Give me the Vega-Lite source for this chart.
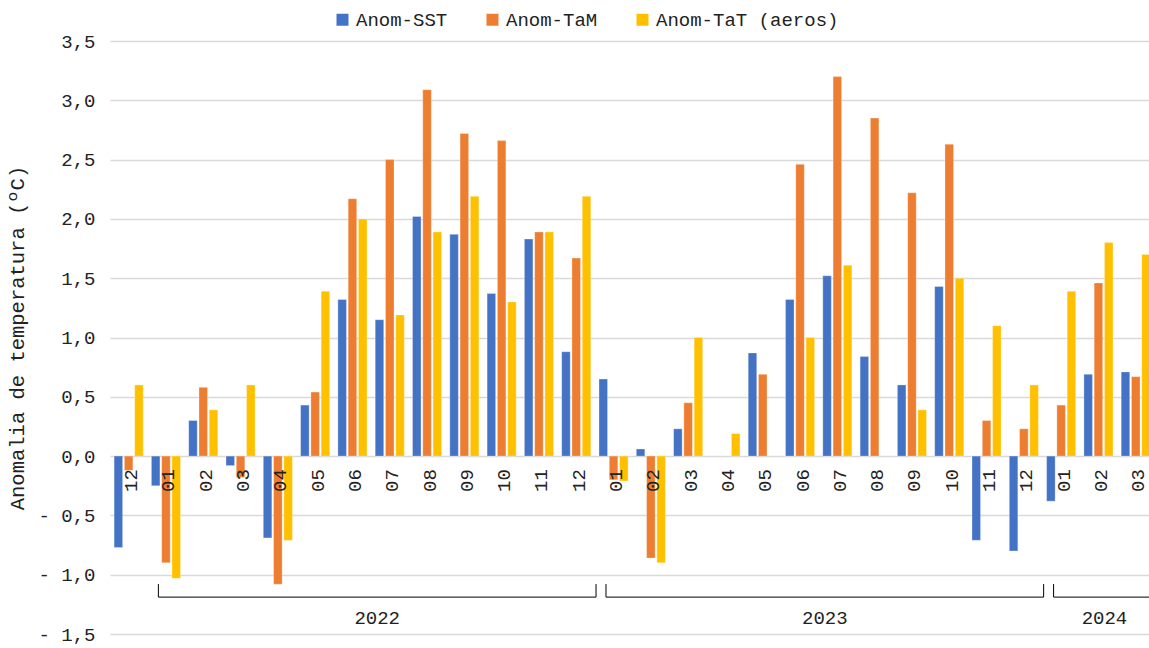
{
  "$schema": "https://vega.github.io/schema/vega-lite/v6.json",
  "width": 1039,
  "height": 593,
  "autosize": {"type": "none"},
  "padding": {"left": 110, "top": 41, "right": 0, "bottom": 14},
  "background": "#ffffff",
  "config": {
    "view": {"stroke": null},
    "font": "Liberation Mono",
    "text": {"font": "Liberation Mono", "color": "#222222"}
  },
  "datasets": {
    "bars": [
      {"m": "2021-12", "s": "Anom-SST", "v": -0.77}, {"m": "2021-12", "s": "Anom-TaM", "v": -0.12}, {"m": "2021-12", "s": "Anom-TaT (aeros)", "v": 0.60},
      {"m": "2022-01", "s": "Anom-SST", "v": -0.25}, {"m": "2022-01", "s": "Anom-TaM", "v": -0.90}, {"m": "2022-01", "s": "Anom-TaT (aeros)", "v": -1.03},
      {"m": "2022-02", "s": "Anom-SST", "v": 0.30}, {"m": "2022-02", "s": "Anom-TaM", "v": 0.58}, {"m": "2022-02", "s": "Anom-TaT (aeros)", "v": 0.39},
      {"m": "2022-03", "s": "Anom-SST", "v": -0.08}, {"m": "2022-03", "s": "Anom-TaM", "v": -0.18}, {"m": "2022-03", "s": "Anom-TaT (aeros)", "v": 0.60},
      {"m": "2022-04", "s": "Anom-SST", "v": -0.69}, {"m": "2022-04", "s": "Anom-TaM", "v": -1.08}, {"m": "2022-04", "s": "Anom-TaT (aeros)", "v": -0.71},
      {"m": "2022-05", "s": "Anom-SST", "v": 0.43}, {"m": "2022-05", "s": "Anom-TaM", "v": 0.54}, {"m": "2022-05", "s": "Anom-TaT (aeros)", "v": 1.39},
      {"m": "2022-06", "s": "Anom-SST", "v": 1.32}, {"m": "2022-06", "s": "Anom-TaM", "v": 2.17}, {"m": "2022-06", "s": "Anom-TaT (aeros)", "v": 2.00},
      {"m": "2022-07", "s": "Anom-SST", "v": 1.15}, {"m": "2022-07", "s": "Anom-TaM", "v": 2.50}, {"m": "2022-07", "s": "Anom-TaT (aeros)", "v": 1.19},
      {"m": "2022-08", "s": "Anom-SST", "v": 2.02}, {"m": "2022-08", "s": "Anom-TaM", "v": 3.09}, {"m": "2022-08", "s": "Anom-TaT (aeros)", "v": 1.89},
      {"m": "2022-09", "s": "Anom-SST", "v": 1.87}, {"m": "2022-09", "s": "Anom-TaM", "v": 2.72}, {"m": "2022-09", "s": "Anom-TaT (aeros)", "v": 2.19},
      {"m": "2022-10", "s": "Anom-SST", "v": 1.37}, {"m": "2022-10", "s": "Anom-TaM", "v": 2.66}, {"m": "2022-10", "s": "Anom-TaT (aeros)", "v": 1.30},
      {"m": "2022-11", "s": "Anom-SST", "v": 1.83}, {"m": "2022-11", "s": "Anom-TaM", "v": 1.89}, {"m": "2022-11", "s": "Anom-TaT (aeros)", "v": 1.89},
      {"m": "2022-12", "s": "Anom-SST", "v": 0.88}, {"m": "2022-12", "s": "Anom-TaM", "v": 1.67}, {"m": "2022-12", "s": "Anom-TaT (aeros)", "v": 2.19},
      {"m": "2023-01", "s": "Anom-SST", "v": 0.65}, {"m": "2023-01", "s": "Anom-TaM", "v": -0.20}, {"m": "2023-01", "s": "Anom-TaT (aeros)", "v": -0.21},
      {"m": "2023-02", "s": "Anom-SST", "v": 0.06}, {"m": "2023-02", "s": "Anom-TaM", "v": -0.86}, {"m": "2023-02", "s": "Anom-TaT (aeros)", "v": -0.90},
      {"m": "2023-03", "s": "Anom-SST", "v": 0.23}, {"m": "2023-03", "s": "Anom-TaM", "v": 0.45}, {"m": "2023-03", "s": "Anom-TaT (aeros)", "v": 1.00},
      {"m": "2023-04", "s": "Anom-TaT (aeros)", "v": 0.19},
      {"m": "2023-05", "s": "Anom-SST", "v": 0.87}, {"m": "2023-05", "s": "Anom-TaM", "v": 0.69},
      {"m": "2023-06", "s": "Anom-SST", "v": 1.32}, {"m": "2023-06", "s": "Anom-TaM", "v": 2.46}, {"m": "2023-06", "s": "Anom-TaT (aeros)", "v": 1.00},
      {"m": "2023-07", "s": "Anom-SST", "v": 1.52}, {"m": "2023-07", "s": "Anom-TaM", "v": 3.20}, {"m": "2023-07", "s": "Anom-TaT (aeros)", "v": 1.61},
      {"m": "2023-08", "s": "Anom-SST", "v": 0.84}, {"m": "2023-08", "s": "Anom-TaM", "v": 2.85},
      {"m": "2023-09", "s": "Anom-SST", "v": 0.60}, {"m": "2023-09", "s": "Anom-TaM", "v": 2.22}, {"m": "2023-09", "s": "Anom-TaT (aeros)", "v": 0.39},
      {"m": "2023-10", "s": "Anom-SST", "v": 1.43}, {"m": "2023-10", "s": "Anom-TaM", "v": 2.63}, {"m": "2023-10", "s": "Anom-TaT (aeros)", "v": 1.50},
      {"m": "2023-11", "s": "Anom-SST", "v": -0.71}, {"m": "2023-11", "s": "Anom-TaM", "v": 0.30}, {"m": "2023-11", "s": "Anom-TaT (aeros)", "v": 1.10},
      {"m": "2023-12", "s": "Anom-SST", "v": -0.80}, {"m": "2023-12", "s": "Anom-TaM", "v": 0.23}, {"m": "2023-12", "s": "Anom-TaT (aeros)", "v": 0.60},
      {"m": "2024-01", "s": "Anom-SST", "v": -0.38}, {"m": "2024-01", "s": "Anom-TaM", "v": 0.43}, {"m": "2024-01", "s": "Anom-TaT (aeros)", "v": 1.39},
      {"m": "2024-02", "s": "Anom-SST", "v": 0.69}, {"m": "2024-02", "s": "Anom-TaM", "v": 1.46}, {"m": "2024-02", "s": "Anom-TaT (aeros)", "v": 1.80},
      {"m": "2024-03", "s": "Anom-SST", "v": 0.71}, {"m": "2024-03", "s": "Anom-TaM", "v": 0.67}, {"m": "2024-03", "s": "Anom-TaT (aeros)", "v": 1.70}
    ],
    "months": [
      {"m": "2021-12", "lab": "12"},
      {"m": "2022-01", "lab": "01"}, {"m": "2022-02", "lab": "02"}, {"m": "2022-03", "lab": "03"}, {"m": "2022-04", "lab": "04"},
      {"m": "2022-05", "lab": "05"}, {"m": "2022-06", "lab": "06"}, {"m": "2022-07", "lab": "07"}, {"m": "2022-08", "lab": "08"},
      {"m": "2022-09", "lab": "09"}, {"m": "2022-10", "lab": "10"}, {"m": "2022-11", "lab": "11"}, {"m": "2022-12", "lab": "12"},
      {"m": "2023-01", "lab": "01"}, {"m": "2023-02", "lab": "02"}, {"m": "2023-03", "lab": "03"}, {"m": "2023-04", "lab": "04"},
      {"m": "2023-05", "lab": "05"}, {"m": "2023-06", "lab": "06"}, {"m": "2023-07", "lab": "07"}, {"m": "2023-08", "lab": "08"},
      {"m": "2023-09", "lab": "09"}, {"m": "2023-10", "lab": "10"}, {"m": "2023-11", "lab": "11"}, {"m": "2023-12", "lab": "12"},
      {"m": "2024-01", "lab": "01"}, {"m": "2024-02", "lab": "02"}, {"m": "2024-03", "lab": "03"}
    ],
    "years": [
      {"year": "2022", "first": "2022-01", "last": "2022-12", "mid": "2022-07", "full": true},
      {"year": "2023", "first": "2023-01", "last": "2023-12", "mid": "2023-07", "full": true},
      {"year": "2024", "first": "2024-01", "last": "2024-03", "mid": "2024-02", "full": false}
    ]
  },
  "layer": [
    {
      "data": {"name": "bars"},
      "mark": {"type": "bar", "clip": true, "stroke": "#ffffff", "strokeWidth": 0.6, "strokeOpacity": 0.5},
      "encoding": {
        "x": {
          "field": "m", "type": "ordinal",
          "scale": {"range": [0, 1044.4], "paddingInner": 0.22, "paddingOuter": 0.11},
          "axis": null
        },
        "xOffset": {
          "field": "s", "type": "nominal",
          "scale": {"domain": ["Anom-SST", "Anom-TaM", "Anom-TaT (aeros)"], "paddingInner": 0.17}
        },
        "y": {
          "field": "v", "type": "quantitative",
          "scale": {"domain": [-1.5, 3.5], "nice": false, "zero": false},
          "axis": {
            "title": "Anomalia de temperatura (ºC)",
            "titleFont": "Liberation Mono",
            "titleFontSize": 20.5,
            "titleFontWeight": "normal",
            "titleColor": "#222222",
            "titlePadding": 10,
            "values": [-1.5, -1, -0.5, 0, 0.5, 1, 1.5, 2, 2.5, 3, 3.5],
            "labelExpr": "(datum.value < 0 ? '- ' : '') + replace(format(abs(datum.value), '.1f'), '.', ',')",
            "labelFont": "Liberation Mono",
            "labelFontSize": 19,
            "labelColor": "#222222",
            "labelPadding": 15,
            "domain": false,
            "ticks": false,
            "grid": true,
            "gridColor": "#d9d9d9",
            "gridWidth": 1.5
          }
        },
        "color": {
          "field": "s", "type": "nominal",
          "scale": {"domain": ["Anom-SST", "Anom-TaM", "Anom-TaT (aeros)"], "range": ["#4472c4", "#ed7d31", "#ffc000"]},
          "legend": {
            "title": null,
            "orient": "none",
            "direction": "horizontal",
            "legendX": 223,
            "legendY": -31,
            "symbolType": "square",
            "symbolSize": 144,
            "symbolStrokeWidth": 0,
            "labelFont": "Liberation Mono",
            "labelFontSize": 19,
            "labelColor": "#222222",
            "labelOffset": 4,
            "labelLimit": 400,
            "columnPadding": 35
          }
        }
      }
    },
    {
      "data": {"name": "months"},
      "mark": {"type": "text", "angle": 270, "align": "right", "baseline": "middle", "dx": -13, "dy": 2.5, "fontSize": 19, "font": "Liberation Mono", "color": "#222222"},
      "encoding": {
        "x": {"field": "m", "type": "ordinal", "axis": null},
        "y": {"datum": 0, "type": "quantitative"},
        "text": {"field": "lab"}
      }
    },
    {
      "data": {"name": "years"},
      "mark": {"type": "rule", "clip": true, "color": "#000000", "strokeWidth": 1},
      "encoding": {
        "x": {"field": "first", "type": "ordinal", "bandPosition": 0.24, "axis": null},
        "x2": {"field": "last", "bandPosition": 1.18},
        "y": {"datum": -1.189, "type": "quantitative"}
      }
    },
    {
      "data": {"name": "years"},
      "mark": {"type": "rule", "clip": true, "color": "#000000", "strokeWidth": 1},
      "encoding": {
        "x": {"field": "first", "type": "ordinal", "bandPosition": 0.24, "axis": null},
        "y": {"datum": -1.079, "type": "quantitative"},
        "y2": {"datum": -1.189}
      }
    },
    {
      "data": {"name": "years"},
      "mark": {"type": "rule", "clip": true, "color": "#000000", "strokeWidth": 1},
      "encoding": {
        "x": {"field": "last", "type": "ordinal", "bandPosition": 1.18, "axis": null},
        "y": {"datum": -1.079, "type": "quantitative"},
        "y2": {"datum": -1.189}
      }
    },
    {
      "data": {"name": "years"},
      "transform": [{"filter": "datum.full"}],
      "mark": {"type": "text", "align": "center", "baseline": "middle", "dx": 2, "fontSize": 19, "font": "Liberation Mono", "color": "#222222"},
      "encoding": {
        "x": {"field": "mid", "type": "ordinal", "bandPosition": 0, "axis": null},
        "y": {"datum": -1.362, "type": "quantitative"},
        "text": {"field": "year"}
      }
    },
    {
      "data": {"name": "years"},
      "transform": [{"filter": "!datum.full"}],
      "mark": {"type": "text", "align": "center", "baseline": "middle", "dx": 6, "fontSize": 19, "font": "Liberation Mono", "color": "#222222"},
      "encoding": {
        "x": {"field": "mid", "type": "ordinal", "bandPosition": 0.5, "axis": null},
        "y": {"datum": -1.362, "type": "quantitative"},
        "text": {"field": "year"}
      }
    }
  ]
}
